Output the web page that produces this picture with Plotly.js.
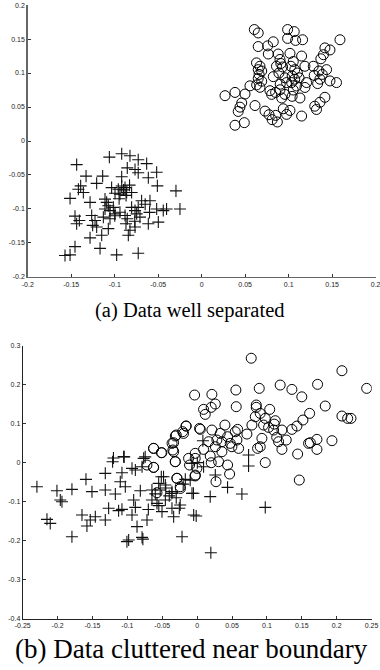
<!DOCTYPE html>
<html>
<head>
<meta charset="utf-8">
<script src="https://cdn.plot.ly/plotly-3.0.1.min.js"></script>
<style>
html,body{margin:0;padding:0;background:#fff;}
#chart{width:380px;height:670px;}
</style>
</head>
<body>
<div id="chart"></div>
<script>
// ---- Panel (a): data well separated ----
const aCircleX = [0.0605,0.065,0.0988,0.1064,0.0988,0.108,0.116,0.065,0.0758,0.0823,0.159,0.1417,0.1475,0.140,0.137,0.0766,0.088,0.1015,0.1149,0.063,0.067,0.065,0.069,0.066,0.065,0.069,0.0632,0.067,0.090,0.091,0.093,0.086,0.1053,0.1026,0.107,0.110,0.104,0.107,0.112,0.1034,0.109,0.1053,0.1187,0.1283,0.1348,0.1294,0.1386,0.1436,0.136,0.1333,0.1475,0.155,0.0888,0.0823,0.0957,0.0903,0.0976,0.090,0.085,0.0785,0.0804,0.0957,0.092,0.104,0.113,0.0555,0.0498,0.0383,0.0268,0.046,0.044,0.0613,0.042,0.0728,0.0774,0.085,0.081,0.087,0.0938,0.1015,0.0976,0.1149,0.130,0.136,0.1417,0.132,0.0383,0.049,0.1187,0.1206];
const aCircleY = [0.164,0.159,0.164,0.161,0.151,0.148,0.149,0.139,0.140,0.146,0.149,0.137,0.134,0.127,0.121,0.128,0.128,0.129,0.125,0.115,0.110,0.105,0.103,0.098,0.092,0.088,0.0826,0.079,0.120,0.114,0.109,0.110,0.117,0.110,0.105,0.100,0.0957,0.091,0.093,0.086,0.081,0.075,0.110,0.110,0.103,0.0966,0.098,0.105,0.091,0.0845,0.0884,0.086,0.100,0.0947,0.093,0.0836,0.086,0.0754,0.0715,0.074,0.0686,0.0686,0.0633,0.0657,0.0633,0.0812,0.0691,0.0715,0.0667,0.056,0.0498,0.0522,0.0435,0.044,0.0387,0.0377,0.0314,0.028,0.0474,0.045,0.0392,0.0367,0.0512,0.057,0.0643,0.0464,0.0232,0.027,0.0788,0.086];

const aCrossX = [-0.1062,-0.092,-0.0825,-0.073,-0.0633,-0.1438,-0.0856,-0.0767,-0.073,-0.0518,-0.133,-0.1139,-0.092,-0.0614,-0.051,-0.0296,-0.1392,-0.1418,-0.1361,-0.1208,-0.1036,-0.0959,-0.092,-0.0882,-0.0863,-0.094,-0.0806,-0.0997,-0.1514,-0.1284,-0.1112,-0.1093,-0.1074,-0.1112,-0.1055,-0.1016,-0.0997,-0.094,-0.0882,-0.0856,-0.0767,-0.073,-0.0691,-0.0595,-0.0518,-0.0442,-0.0404,-0.025,-0.1457,-0.1407,-0.1438,-0.1265,-0.1227,-0.1254,-0.1208,-0.1131,-0.1074,-0.115,-0.1284,-0.0825,-0.0844,-0.0767,-0.071,-0.0614,-0.0499,-0.1457,-0.1572,-0.1514,-0.1169,-0.0978,-0.073,-0.0806,-0.0748,-0.0871,-0.1055,-0.090,-0.087,-0.095,-0.083,-0.100,-0.077,-0.065,-0.060];
const aCrossY = [-0.0237,-0.0188,-0.0217,-0.0275,-0.0333,-0.0348,-0.0396,-0.042,-0.0468,-0.0459,-0.0517,-0.0517,-0.0526,-0.054,-0.066,-0.0734,-0.066,-0.071,-0.0758,-0.0623,-0.0686,-0.071,-0.0662,-0.0686,-0.0758,-0.0782,-0.0758,-0.0768,-0.0845,-0.0903,-0.0855,-0.0903,-0.0952,-0.100,-0.1024,-0.0976,-0.1072,-0.1048,-0.1097,-0.1145,-0.1024,-0.0976,-0.0879,-0.0879,-0.100,-0.1024,-0.100,-0.100,-0.1106,-0.1169,-0.1217,-0.1097,-0.1169,-0.1241,-0.1265,-0.1121,-0.129,-0.1386,-0.1425,-0.1314,-0.1386,-0.1265,-0.1121,-0.1217,-0.1193,-0.1555,-0.1686,-0.1676,-0.158,-0.1676,-0.1652,-0.0976,-0.1072,-0.1217,-0.1145,-0.072,-0.080,-0.085,-0.065,-0.110,-0.118,-0.093,-0.105];

// ---- Panel (b): data cluttered near boundary ----
const bCircleX = [0.0775,0.2075,0.243,-0.0037,0.0211,0.0555,0.089,0.119,0.1358,0.150,0.1726,0.056,0.0847,0.0847,0.104,0.0092,0.0201,0.026,0.0116,0.1836,0.2075,0.2157,0.2205,0.1612,0.1516,0.143,0.1358,0.0833,0.0904,0.0976,0.112,0.1105,0.0952,0.1024,0.1096,0.0785,0.0713,0.0928,0.114,0.1215,0.1277,0.1167,0.1215,0.1597,0.1717,0.1932,0.1717,0.144,0.1622,0.0866,0.0904,0.0976,0.1464,0.0398,0.058,0.0546,0.057,0.0474,0.0498,0.0594,0.0331,0.0211,0.0355,0.026,0.0355,0.0187,0.0307,0.0436,0.0465,0.027,0.0202,0.0034,-0.0157,-0.030,-0.0195,-0.0338,-0.0348,-0.0506,-0.0625,-0.0314,-0.0625,0.0092,0.0164,-0.0028,-0.0123,-0.0028,-0.0109,-0.0004,-0.0028,-0.029,-0.0243,0.0283,0.0436,-0.016,-0.0208,-0.0313,-0.036,-0.0624,-0.0514,-0.0337,-0.0313,-0.072,-0.0624,-0.029,-0.024,-0.0576,-0.0026,0.0045];
const bCircleY = [0.268,0.236,0.1907,0.1736,0.1753,0.1864,0.1907,0.1992,0.188,0.169,0.201,0.1437,0.148,0.142,0.1368,0.1368,0.142,0.1505,0.124,0.1454,0.1197,0.1137,0.1137,0.1265,0.1095,0.094,0.0855,0.118,0.1265,0.1137,0.1077,0.099,0.0966,0.0906,0.0838,0.0966,0.0735,0.0624,0.065,0.0838,0.0582,0.0538,0.0342,0.0496,0.0599,0.0565,0.0342,0.0222,0.0514,0.0368,0.041,0.0003,-0.0445,0.0966,0.0855,0.0795,0.0582,0.0496,0.041,0.0368,0.0752,0.0838,0.0539,0.041,0.0282,0.0171,0.0026,-0.0059,-0.029,-0.0487,0.000,0.088,0.094,0.071,0.0752,0.0513,0.0325,0.0257,0.0368,0.0026,-0.012,0.0342,0.0539,0.024,0.0111,0.0111,-0.006,-0.0145,-0.034,-0.040,-0.0616,0.0582,0.0667,0.094,0.0796,0.0685,0.0497,0.0368,0.0257,0.0283,0.0026,-0.006,-0.012,-0.040,-0.066,-0.077,-0.0316,0.0856];

const bCrossX = [0.0082,0.0737,0.0737,-0.0076,0.0092,0.026,0.0436,0.0187,0.0641,0.0976,-0.0243,-0.0482,-0.053,-0.0362,-0.0053,-0.0014,0.0196,-0.2297,-0.201,-0.1795,-0.1962,-0.1938,-0.2153,-0.2106,-0.1795,-0.1594,-0.1508,-0.1317,-0.1317,-0.1212,-0.1054,-0.1078,-0.0934,-0.0886,-0.0767,-0.079,-0.1102,-0.103,-0.0815,-0.1173,-0.1269,-0.1078,-0.1126,-0.146,-0.1651,-0.1532,-0.158,-0.1317,-0.091,-0.0886,-0.0934,-0.0862,-0.0982,-0.079,-0.0719,-0.0648,-0.0552,-0.0514,-0.0576,-0.0456,-0.0504,-0.0361,-0.0256,-0.0337,-0.0217,0.0002,-0.017,-0.0074,-0.005,-0.0456,-0.0361,-0.0648,-0.1007,-0.0778,-0.120,-0.1046,-0.0745,-0.060,-0.040,-0.030,-0.045,-0.020,-0.010,-0.055,-0.070];
const bCrossY = [0.0564,0.0197,-0.0085,-0.0017,-0.0103,-0.0316,-0.0633,-0.087,-0.0804,-0.1146,-0.1086,-0.036,-0.070,-0.0786,-0.0785,-0.1367,-0.2308,-0.0615,-0.0718,-0.0683,-0.0957,-0.100,-0.1453,-0.1556,-0.1898,-0.0427,-0.0743,-0.070,-0.0273,0.0026,0.0155,-0.0256,-0.0145,-0.0188,0.0112,-0.0102,-0.0487,-0.0615,-0.0718,-0.0803,-0.117,-0.1196,-0.123,-0.1385,-0.1342,-0.147,-0.1624,-0.147,-0.0957,-0.1145,-0.1342,-0.164,-0.1983,-0.1915,-0.147,-0.0957,-0.053,-0.036,-0.1043,-0.0957,-0.1256,-0.117,-0.117,-0.1385,-0.1898,0.0001,-0.0427,-0.0786,-0.1342,-0.0572,-0.0743,-0.070,-0.2025,-0.196,0.012,0.015,0.015,-0.080,-0.085,-0.090,-0.065,-0.055,-0.045,-0.110,-0.120];

const ticksA = [-0.2,-0.15,-0.1,-0.05,0,0.05,0.1,0.15,0.2];
const tickTextA = ['-0.2','-0.15','-0.1','-0.05','0','0.05','0.1','0.15','0.2'];
const ticksBx = [-0.25,-0.2,-0.15,-0.1,-0.05,0,0.05,0.1,0.15,0.2,0.25];
const tickTextBx = ['-0.25','-0.2','-0.15','-0.1','-0.05','0','0.05','0.1','0.15','0.2','0.25'];
const ticksBy = [-0.4,-0.3,-0.2,-0.1,0,0.1,0.2,0.3];
const tickTextBy = ['-0.4','-0.3','-0.2','-0.1','0','0.1','0.2','0.3'];
const captionA = '(a) Data well separated';
const captionB = '(b) Data cluttered near boundary';

const circ = {symbol:'circle-open', size:10, color:'#000', line:{width:1, color:'#000'}};
const cross = {symbol:'cross-thin-open', size:8.6, color:'#111', line:{width:1.1, color:'#111'}};

const traces = [
  {x:aCircleX, y:aCircleY, xaxis:'x', yaxis:'y', mode:'markers', type:'scatter', marker:circ, hoverinfo:'skip'},
  {x:aCrossX, y:aCrossY, xaxis:'x', yaxis:'y', mode:'markers', type:'scatter', marker:cross, hoverinfo:'skip'},
  {x:bCircleX, y:bCircleY, xaxis:'x2', yaxis:'y2', mode:'markers', type:'scatter', marker:circ, hoverinfo:'skip'},
  {x:bCrossX, y:bCrossY, xaxis:'x2', yaxis:'y2', mode:'markers', type:'scatter', marker:cross, hoverinfo:'skip'}
];

const tickFont = {family:'Liberation Sans, Arial, sans-serif', size:7, color:'#222'};
function ax(extra){
  return Object.assign({showline:true, zeroline:false, showgrid:false, ticks:'inside', ticklen:3,
    tickfont:tickFont, mirror:false, fixedrange:true, tickmode:'array', ticklabeloverflow:'allow'}, extra);
}

const layout = {
  width:380, height:670,
  margin:{l:0,r:0,t:0,b:0},
  paper_bgcolor:'#fff', plot_bgcolor:'rgba(0,0,0,0)',
  showlegend:false,
  xaxis: ax({domain:[0.0729,0.9887], range:[-0.2001,0.2001], tickvals:ticksA, ticktext:tickTextA, linecolor:'#666', linewidth:1.5, tickcolor:'#333', anchor:'y'}),
  yaxis: ax({domain:[0.5866,0.9925], range:[-0.2001,0.2001], tickvals:ticksA, ticktext:tickTextA, linecolor:'#666', linewidth:1.5, tickcolor:'#333', anchor:'x'}),
  xaxis2: ax({domain:[0.0597,0.978], range:[-0.2501,0.2501], tickvals:ticksBx, ticktext:tickTextBx, linecolor:'#222', linewidth:1, tickcolor:'#333', anchor:'y2'}),
  yaxis2: ax({domain:[0.0766,0.484], range:[-0.4001,0.3001], tickvals:ticksBy, ticktext:tickTextBy, linecolor:'#222', linewidth:1, tickcolor:'#333', anchor:'x2'}),
  annotations:[
    {text:captionA, xref:'paper', yref:'paper', x:0.5, y:1-310/670, xanchor:'center', yanchor:'middle', showarrow:false,
     font:{family:'Liberation Serif, Times New Roman, serif', size:20.5, color:'#000'}},
    {text:captionB, xref:'paper', yref:'paper', x:0.505, y:1-649/670, xanchor:'center', yanchor:'middle', showarrow:false,
     font:{family:'Liberation Serif, Times New Roman, serif', size:27, color:'#000'}}
  ]
};

Plotly.newPlot('chart', traces, layout, {staticPlot:true, displayModeBar:false});
</script>
</body>
</html>
